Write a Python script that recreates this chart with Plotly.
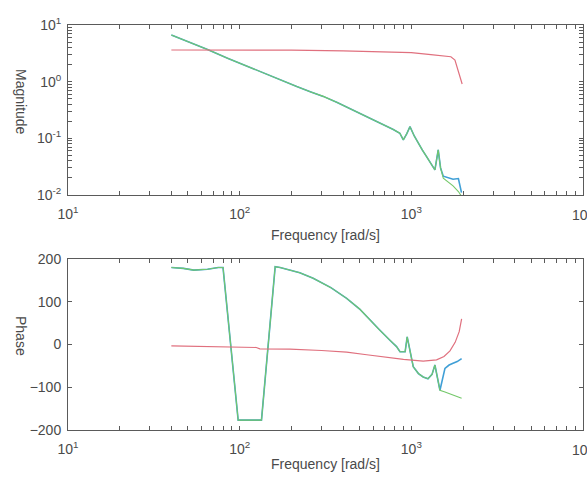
import plotly.graph_objects as go

# ---- Data ----
mag_freq = [40, 50, 65, 85, 131, 170, 215, 260, 307, 370, 438, 501, 580, 656, 720, 785, 857, 898, 940, 982,
            1040, 1097, 1160, 1227, 1300, 1372, 1434, 1480, 1535, 1635, 1750, 1880, 1960]
mag_green = [6.66, 5.1, 3.7, 2.6, 1.50, 1.10, 0.82, 0.66, 0.55, 0.43, 0.335, 0.277, 0.228, 0.19, 0.163,
             0.143, 0.123, 0.094, 0.12, 0.161, 0.11, 0.082, 0.062, 0.0475, 0.036, 0.0277, 0.0624, 0.03,
             0.0198, 0.0172, 0.0145, 0.0115, 0.0095]
mag_blue = [6.66, 5.1, 3.7, 2.6, 1.50, 1.10, 0.82, 0.66, 0.55, 0.43, 0.335, 0.277, 0.228, 0.19, 0.163,
            0.143, 0.123, 0.094, 0.12, 0.161, 0.11, 0.082, 0.062, 0.0475, 0.036, 0.0277, 0.0624, 0.03,
            0.0215, 0.0205, 0.019, 0.0195, 0.011]
mag_red_freq = [40, 100, 200, 400, 700, 1000, 1300, 1600, 1700, 1795, 1876, 1977]
mag_red = [3.62, 3.62, 3.6, 3.5, 3.4, 3.25, 3.0, 2.84, 2.75, 2.41, 1.5, 0.91]

ph_freq = [40, 47, 54, 65, 75, 80, 98, 134, 161, 172, 224, 268, 340, 420, 500, 574, 650, 750, 820, 859,
           920, 946, 1026, 1100, 1172, 1250, 1320, 1372, 1468, 1570, 1660, 1750, 1850, 1963]
ph_green = [180, 178, 174, 176, 180, 180, -177, -177, 182, 180, 168, 155, 133, 108, 83, 57, 35, 10, -5, -17,
            -17, 18, -52, -68, -76, -80, -70, -48, -107, -111, -115, -119, -122, -126]
ph_blue = [180, 178, 174, 176, 180, 180, -177, -177, 182, 180, 168, 155, 133, 108, 83, 57, 35, 10, -5, -17,
           -17, 18, -52, -68, -76, -80, -70, -48, -107, -56, -48, -44, -40, -33]
ph_red_freq = [40, 88, 125, 131, 196, 300, 420, 550, 686, 900, 1172, 1300, 1403, 1550, 1679, 1800, 1900, 1963]
ph_red = [-3, -5, -7, -10, -11, -14, -18, -24, -29, -35, -39, -38, -36, -28, -15, 5, 30, 60]

x_major = [10, 100, 1000, 10000]
x_major_text = ["10<sup>1</sup>", "10<sup>2</sup>", "10<sup>3</sup>", ""]
x_edge_label = "10<sup>4</sup>"
y_mag_major = [0.01, 0.1, 1, 10]
y_mag_text = ["10<sup>-2</sup>", "10<sup>-1</sup>", "10<sup>0</sup>", "10<sup>1</sup>"]
y_ph_ticks = [-200, -100, 0, 100, 200]
x_title = "Frequency [rad/s]"
mag_title = "Magnitude"
ph_title = "Phase"

BLUE = "#3f9fd6"
GREEN = "#74c86a"
RED = "#e0707e"
AXC = "#5a5a5a"
FONT = dict(family="Liberation Sans, Arial, sans-serif", size=14, color="#4a4a4a")
TFONT = dict(family="Liberation Sans, Arial, sans-serif", size=14, color="#4a4a4a")

W, H = 587, 480
L, R = 68, 583
T1, B1 = 25, 195
T2, B2 = 259, 430


def log_ticks(majors, labels):
    vals, text = [], []
    for i, m in enumerate(majors):
        vals.append(m)
        text.append(labels[i])
        if i < len(majors) - 1:
            for k in range(2, 10):
                vals.append(m * k)
                text.append("")
    return vals, text


xv, xt = log_ticks(x_major, x_major_text)
yv, yt = log_ticks(y_mag_major, y_mag_text)

fig = go.Figure()
fig.add_trace(go.Scatter(x=mag_freq, y=mag_blue, mode="lines", line=dict(color=BLUE, width=1.6),
                         xaxis="x", yaxis="y", showlegend=False))
fig.add_trace(go.Scatter(x=mag_freq, y=mag_green, mode="lines", line=dict(color=GREEN, width=1.1),
                         xaxis="x", yaxis="y", showlegend=False))
fig.add_trace(go.Scatter(x=mag_red_freq, y=mag_red, mode="lines", line=dict(color=RED, width=1.2),
                         xaxis="x", yaxis="y", showlegend=False))
fig.add_trace(go.Scatter(x=ph_freq, y=ph_blue, mode="lines", line=dict(color=BLUE, width=1.6),
                         xaxis="x2", yaxis="y2", showlegend=False))
fig.add_trace(go.Scatter(x=ph_freq, y=ph_green, mode="lines", line=dict(color=GREEN, width=1.1),
                         xaxis="x2", yaxis="y2", showlegend=False))
fig.add_trace(go.Scatter(x=ph_red_freq, y=ph_red, mode="lines", line=dict(color=RED, width=1.2),
                         xaxis="x2", yaxis="y2", showlegend=False))

common_x = dict(type="log", range=[1, 4], tickvals=xv, ticktext=xt, ticks="inside", ticklen=4,
                tickcolor=AXC, showline=True, linecolor=AXC, linewidth=1, mirror="ticks",
                showgrid=False, zeroline=False, tickfont=FONT, domain=[L / W, R / W],
                automargin=False, ticklabelstandoff=6)
common_y = dict(ticks="inside", ticklen=4, tickcolor=AXC, showline=True, linecolor=AXC, linewidth=1,
                mirror="ticks", showgrid=False, zeroline=False, tickfont=FONT, automargin=False,
                ticklabelstandoff=3)

fig.update_layout(
    width=W, height=H,
    paper_bgcolor="white", plot_bgcolor="white",
    margin=dict(l=0, r=0, t=0, b=0),
    font=FONT,
    xaxis=dict(common_x, anchor="y"),
    yaxis=dict(common_y, type="log", range=[-2, 1], tickvals=yv, ticktext=yt, anchor="x",
               domain=[(H - B1) / H, (H - T1) / H]),
    xaxis2=dict(common_x, anchor="y2"),
    yaxis2=dict(common_y, range=[-200, 200], tickvals=y_ph_ticks, anchor="x2",
                domain=[(H - B2) / H, (H - T2) / H]),
)

annots = [
    dict(text=x_title, x=(L + R) / 2 / W, y=(H - 235) / H),
    dict(text=x_title, x=(L + R) / 2 / W, y=(H - 464) / H),
    dict(text=mag_title, x=21 / W, y=(H - 102) / H, textangle=90),
    dict(text=ph_title, x=21 / W, y=(H - 336) / H, textangle=90),
    dict(text=x_edge_label, x=R / W, y=(H - 214) / H),
    dict(text=x_edge_label, x=R / W, y=(H - 449) / H),
]
for a in annots:
    fig.add_annotation(xref="paper", yref="paper", showarrow=False, font=TFONT,
                       xanchor="center", yanchor="middle", **a)

fig.write_html("out.html", config={"displayModeBar": False},
               post_script="document.body.style.margin='0';document.body.style.overflow='hidden';")
